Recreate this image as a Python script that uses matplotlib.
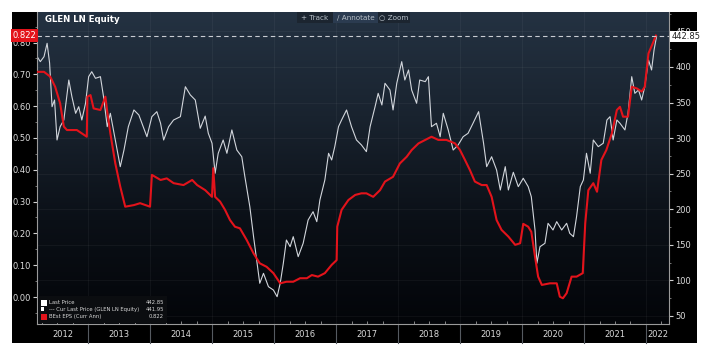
import numpy as np
import matplotlib
matplotlib.use("Agg")
import matplotlib.pyplot as plt
from matplotlib.patches import Rectangle
from matplotlib.ticker import MultipleLocator, FixedLocator
from matplotlib.colors import LinearSegmentedColormap
import matplotlib.transforms as mtransforms

# ---------------- data ----------------
price_t = [2012.18, 2012.23, 2012.29, 2012.34, 2012.38, 2012.42, 2012.46, 2012.50, 2012.55, 2012.61,
           2012.69, 2012.74, 2012.80, 2012.85, 2012.90, 2012.96, 2013.01, 2013.06, 2013.12, 2013.20,
           2013.25, 2013.31, 2013.36, 2013.44, 2013.52, 2013.58, 2013.65, 2013.74, 2013.82, 2013.87,
           2013.95, 2014.03, 2014.11, 2014.17, 2014.22, 2014.30, 2014.38, 2014.49, 2014.57, 2014.65,
           2014.73, 2014.81, 2014.89, 2014.94, 2015.00, 2015.05, 2015.10, 2015.18, 2015.24, 2015.32,
           2015.40, 2015.48, 2015.53, 2015.61, 2015.67, 2015.72, 2015.77, 2015.83, 2015.91, 2015.99,
           2016.05, 2016.10, 2016.15, 2016.20, 2016.26, 2016.31, 2016.39, 2016.47, 2016.55, 2016.63,
           2016.69, 2016.74, 2016.82, 2016.88, 2016.93, 2016.98, 2017.04, 2017.09, 2017.17, 2017.25,
           2017.33, 2017.41, 2017.49, 2017.55, 2017.63, 2017.68, 2017.74, 2017.79, 2017.87, 2017.92,
           2017.98, 2018.06, 2018.11, 2018.17, 2018.22, 2018.30, 2018.35, 2018.44, 2018.49, 2018.54,
           2018.62, 2018.68, 2018.73, 2018.81, 2018.89, 2018.97, 2019.05, 2019.13, 2019.21, 2019.30,
           2019.38, 2019.43, 2019.51, 2019.59, 2019.65, 2019.73, 2019.78, 2019.86, 2019.94, 2020.02,
           2020.10, 2020.15, 2020.21, 2020.24, 2020.29, 2020.37, 2020.42, 2020.50, 2020.56, 2020.64,
           2020.72, 2020.77, 2020.83, 2020.88, 2020.94, 2020.99, 2021.04, 2021.10, 2021.15, 2021.23,
           2021.31, 2021.37, 2021.42, 2021.47, 2021.53, 2021.58, 2021.66, 2021.71, 2021.77, 2021.82,
           2021.88, 2021.93, 2021.98, 2022.04, 2022.09, 2022.13, 2022.17]
price_v = [414.5, 407.5, 414.5, 433.3, 405.6, 344.2, 353.6, 297.4, 316.1, 325.5,
           381.7, 358.3, 334.9, 344.2, 325.5, 349.0, 386.4, 393.4, 384.1, 386.4,
           358.3, 316.1, 334.9, 297.4, 259.9, 283.3, 316.1, 339.6, 332.5, 320.9,
           302.0, 330.2, 337.2, 320.9, 297.4, 316.1, 325.5, 330.2, 372.3, 360.7,
           353.6, 313.8, 331.0, 306.8, 292.8, 250.6, 278.7, 297.4, 278.7, 311.5,
           283.3, 273.9, 245.8, 203.6, 161.5, 128.7, 96.0, 110.0, 91.2, 86.5,
           77.1, 96.0, 124.1, 156.8, 147.4, 161.5, 133.4, 152.2, 184.9, 196.6,
           182.6, 213.1, 241.2, 278.7, 269.3, 288.0, 316.1, 325.5, 339.6, 316.1,
           297.4, 290.4, 281.0, 316.1, 344.2, 363.0, 346.6, 377.1, 367.7, 339.6,
           377.1, 407.5, 381.7, 395.8, 367.7, 349.0, 381.7, 379.4, 386.4, 316.1,
           320.9, 302.0, 334.9, 311.5, 283.3, 290.4, 302.0, 306.8, 320.9, 337.2,
           292.8, 259.9, 273.9, 255.2, 227.1, 259.9, 227.1, 252.0, 231.8, 243.6,
           231.8, 217.7, 170.9, 124.1, 147.4, 152.2, 180.3, 170.9, 182.6, 170.9,
           180.3, 166.2, 161.5, 189.6, 231.8, 241.2, 278.7, 250.6, 297.4, 288.0,
           292.8, 325.5, 330.2, 297.4, 325.5, 320.9, 311.5, 334.9, 386.4, 363.0,
           367.7, 353.6, 372.3, 409.9, 395.8, 423.9, 442.85]

eps_t = [2012.18, 2012.29, 2012.39, 2012.47, 2012.55, 2012.61, 2012.66, 2012.82, 2012.98, 2012.99,
         2013.04, 2013.09, 2013.20, 2013.28, 2013.31, 2013.36, 2013.44, 2013.52, 2013.60, 2013.74,
         2013.84, 2014.00, 2014.03, 2014.17, 2014.27, 2014.38, 2014.54, 2014.68, 2014.76, 2014.89,
         2015.00, 2015.02, 2015.05, 2015.13, 2015.21, 2015.29, 2015.37, 2015.45, 2015.56, 2015.67,
         2015.77, 2015.88, 2015.99, 2016.10, 2016.20, 2016.31, 2016.42, 2016.53, 2016.61, 2016.71,
         2016.82, 2016.93, 2017.01, 2017.02, 2017.09, 2017.20, 2017.31, 2017.41, 2017.49, 2017.60,
         2017.71, 2017.79, 2017.92, 2018.03, 2018.14, 2018.22, 2018.33, 2018.44, 2018.54, 2018.65,
         2018.78, 2018.92, 2019.00, 2019.08, 2019.16, 2019.24, 2019.35, 2019.43, 2019.51, 2019.59,
         2019.67, 2019.78, 2019.89, 2019.97, 2020.02, 2020.10, 2020.15, 2020.21, 2020.26, 2020.32,
         2020.45, 2020.56, 2020.61, 2020.66, 2020.72, 2020.80, 2020.88, 2020.98, 2021.02, 2021.07,
         2021.15, 2021.21, 2021.28, 2021.36, 2021.45, 2021.53, 2021.58, 2021.63, 2021.71, 2021.77,
         2021.85, 2021.93, 2021.98, 2022.04, 2022.11, 2022.16]
eps_v = [0.708, 0.708, 0.693, 0.661, 0.609, 0.536, 0.525, 0.525, 0.504, 0.630,
         0.635, 0.593, 0.588, 0.630, 0.583, 0.515, 0.420, 0.347, 0.284, 0.289,
         0.295, 0.284, 0.384, 0.368, 0.373, 0.358, 0.352, 0.368, 0.352, 0.336,
         0.315, 0.405, 0.315, 0.300, 0.274, 0.242, 0.221, 0.216, 0.179, 0.137,
         0.106, 0.095, 0.075, 0.043, 0.048, 0.048, 0.059, 0.059, 0.069, 0.064,
         0.075, 0.101, 0.116, 0.221, 0.274, 0.305, 0.321, 0.326, 0.326, 0.315,
         0.336, 0.363, 0.378, 0.420, 0.441, 0.462, 0.483, 0.494, 0.504, 0.494,
         0.494, 0.483, 0.462, 0.431, 0.399, 0.363, 0.352, 0.352, 0.315, 0.242,
         0.211, 0.190, 0.164, 0.169, 0.230, 0.221, 0.205, 0.127, 0.064, 0.038,
         0.043, 0.043, 0.001, -0.004, 0.012, 0.064, 0.064, 0.075, 0.232, 0.336,
         0.358, 0.331, 0.431, 0.462, 0.515, 0.588, 0.598, 0.567, 0.567, 0.661,
         0.656, 0.646, 0.661, 0.766, 0.798, 0.822]

years = list(range(2012, 2023))
eps_ticks = [0.00, 0.10, 0.20, 0.30, 0.40, 0.50, 0.60, 0.70, 0.80]
price_ticks = [50, 100, 150, 200, 250, 300, 350, 400, 450]
last_price = 442.85
cur_last_price = 441.95
last_eps = 0.822

title = "GLEN LN Equity"
legend_rows = [("Last Price", "442.85"),
               ("--- Cur Last Price (GLEN LN Equity)", "441.95"),
               ("BEst EPS (Curr Ann)", "0.822")]

# ---------------- figure ----------------
W, H = 724, 357
fig = plt.figure(figsize=(W / 100, H / 100), dpi=100, facecolor="white")

def fx(px):
    return px / W

def fy(py):
    return 1 - py / H

# black frame (behind everything)
fig.patches.append(Rectangle((fx(12), fy(343)), (697 - 12) / W, (343 - 12) / H,
                             transform=fig.transFigure, facecolor="black",
                             edgecolor="none", zorder=-10))

L, R, T, B = 37, 669, 12, 324
xmin, xmax = 2012.177, 2022.371
eps_lim = (-0.0849, 0.8962)
price_lim = (38.75, 477.3)

ax2 = fig.add_axes([fx(L), fy(B), (R - L) / W, (B - T) / H], zorder=1)
ax = fig.add_axes([fx(L), fy(B), (R - L) / W, (B - T) / H], zorder=2, sharex=ax2)
ax.patch.set_visible(False)
ax2.yaxis.tick_right()
ax2.yaxis.set_label_position("right")

# gradient background on lower axes
grad = np.linspace(0, 1, 256).reshape(-1, 1)
cmap = LinearSegmentedColormap.from_list("bg", ["#030509", "#0b1017", "#19232f", "#243242"])
ax2.imshow(grad, extent=[0, 1, 0, 1], transform=ax2.transAxes, cmap=cmap,
           aspect="auto", origin="lower", zorder=0)

ax2.set_xlim(xmin, xmax)
ax2.set_ylim(*price_lim)
ax.set_ylim(*eps_lim)

# faint grid
for p in price_ticks:
    ax2.axhline(p, color="#ffffff", alpha=0.05, lw=0.6, zorder=1)
for y in years[1:]:
    ax2.axvline(y, color="#ffffff", alpha=0.05, lw=0.6, zorder=1)

# lines
ax2.plot(price_t, price_v, color="#d2d6dc", lw=0.8, zorder=3)
ax.plot(eps_t, eps_v, color="#e3131b", lw=1.5, zorder=4)

# dashed current level line
ax.axhline(last_eps, color="#c8ccd2", lw=0.8, ls=(0, (4, 3)), zorder=5)

ax2.set_xlim(xmin, xmax)
ax2.set_ylim(*price_lim)
ax.set_ylim(*eps_lim)

# spines & ticks
tick_col = "#d0d0d0"
for a in (ax, ax2):
    for s in a.spines.values():
        s.set_visible(False)
ax.spines["left"].set_visible(True)
ax.spines["left"].set_color("#9a9a9a")
ax.spines["left"].set_linewidth(0.8)
ax.spines["bottom"].set_visible(True)
ax.spines["bottom"].set_color("#9a9a9a")
ax.spines["bottom"].set_linewidth(0.8)
ax2.spines["right"].set_visible(True)
ax2.spines["right"].set_color("#9a9a9a")
ax2.spines["right"].set_linewidth(0.8)

ax.yaxis.set_major_locator(FixedLocator(eps_ticks))
ax.yaxis.set_minor_locator(MultipleLocator(0.05))
ax.set_yticklabels([f"{v:.2f}" for v in eps_ticks])
ax.tick_params(axis="y", which="major", colors=tick_col, labelsize=6, length=3,
               width=0.8, pad=1.5, labelcolor="#dcdcdc")
ax.tick_params(axis="y", which="minor", colors="#888888", length=1.5, width=0.6)

ax2.yaxis.set_major_locator(FixedLocator(price_ticks))
ax2.yaxis.set_minor_locator(MultipleLocator(25))
ax2.set_yticklabels([str(v) for v in price_ticks])
ax2.tick_params(axis="y", which="major", colors=tick_col, labelsize=6, length=3,
                width=0.8, pad=1.5, labelcolor="#dcdcdc")
ax2.tick_params(axis="y", which="minor", colors="#888888", length=1.5, width=0.6)

ax.xaxis.set_major_locator(FixedLocator([]))
ax.xaxis.set_minor_locator(FixedLocator([y + q for y in years for q in (0.25, 0.5, 0.75)
                                         if xmin < y + q < xmax]))
ax.tick_params(axis="x", which="minor", direction="in", length=2, width=0.6, colors="#9a9a9a")
ax2.tick_params(axis="x", which="both", bottom=False, labelbottom=False)

# year labels and separators
btrans = mtransforms.blended_transform_factory(ax.transData, ax.transAxes)
sep_h = (343 - B) / (B - T)
for y in years:
    lo, hi = max(y, xmin), min(y + 1, xmax)
    ax.text((lo + hi) / 2, -sep_h * 0.55, str(y), transform=btrans, ha="center",
            va="center", fontsize=6, color="#d8d8d8", clip_on=False)
    if xmin < y < xmax:
        ax.plot([y, y], [0, -sep_h], transform=btrans, color="#555a60", lw=0.8,
                clip_on=False)

# value labels on axes
ax.text(-0.001, last_eps, f"{last_eps:.3f}",
        transform=mtransforms.blended_transform_factory(ax.transAxes, ax.transData),
        ha="right", va="center", fontsize=6, color="white", zorder=10, clip_on=False,
        bbox=dict(boxstyle="square,pad=0.2", fc="#e3131b", ec="none"))
ax.text(1.004, (last_price - price_lim[0]) / (price_lim[1] - price_lim[0]), f"{last_price:.2f}",
        transform=ax.transAxes,
        ha="left", va="center", fontsize=6, color="#222222", zorder=10, clip_on=False,
        bbox=dict(boxstyle="square,pad=0.15", fc="white", ec="none"))

# title
ax.text((45 - L) / (R - L), (B - 20) / (B - T), title, transform=ax.transAxes, ha="left",
        va="center", fontsize=6.2, fontweight="bold", color="white", zorder=10)

# toolbar
tb_items = [("+ Track", 297, 333, "#1c2530"), ("\u2215 Annotate", 333, 378, "#2b3b50"),
            ("\u25cb Zoom", 378, 410, "#1c2530")]
for label, x0, x1, col in tb_items:
    fig.patches.append(Rectangle((fx(x0), fy(23)), (x1 - x0) / W, 11 / H,
                                 transform=fig.transFigure, facecolor=col,
                                 edgecolor="none", zorder=5))
    fig.text(fx((x0 + x1) / 2), fy(17.5), label, ha="center", va="center",
             fontsize=5.2, color="#b8c0c8", zorder=6)

# legend box
def axx(px):
    return (px - L) / (R - L)

def axy(py):
    return (B - py) / (B - T)

ax.add_patch(Rectangle((axx(38), axy(323)), axx(167) - axx(38), axy(296) - axy(323),
                       transform=ax.transAxes, facecolor="#0b0d10", edgecolor="none",
                       zorder=8, clip_on=False))
rows_y = [302.5, 309.5, 316.5]
for (lab, val), py in zip(legend_rows, rows_y):
    ax.text(axx(49), axy(py), lab, transform=ax.transAxes, fontsize=3.8,
            color="#d8d8d8", va="center", ha="left", zorder=9)
    ax.text(axx(164), axy(py), val, transform=ax.transAxes, fontsize=3.8,
            color="#d8d8d8", va="center", ha="right", zorder=9)
# markers
ax.add_patch(Rectangle((axx(41), axy(305.5)), axx(47) - axx(41), axy(299.5) - axy(305.5),
                       transform=ax.transAxes, facecolor="white", edgecolor="none", zorder=9))
ax.add_patch(Rectangle((axx(41), axy(311)), axx(44) - axx(41), axy(307) - axy(311),
                       transform=ax.transAxes, facecolor="white", edgecolor="none", zorder=9))
ax.add_patch(Rectangle((axx(41), axy(319.5)), axx(47) - axx(41), axy(313.5) - axy(319.5),
                       transform=ax.transAxes, facecolor="#e3131b", edgecolor="none", zorder=9))

fig.savefig("out.png", dpi=100, facecolor="white")
